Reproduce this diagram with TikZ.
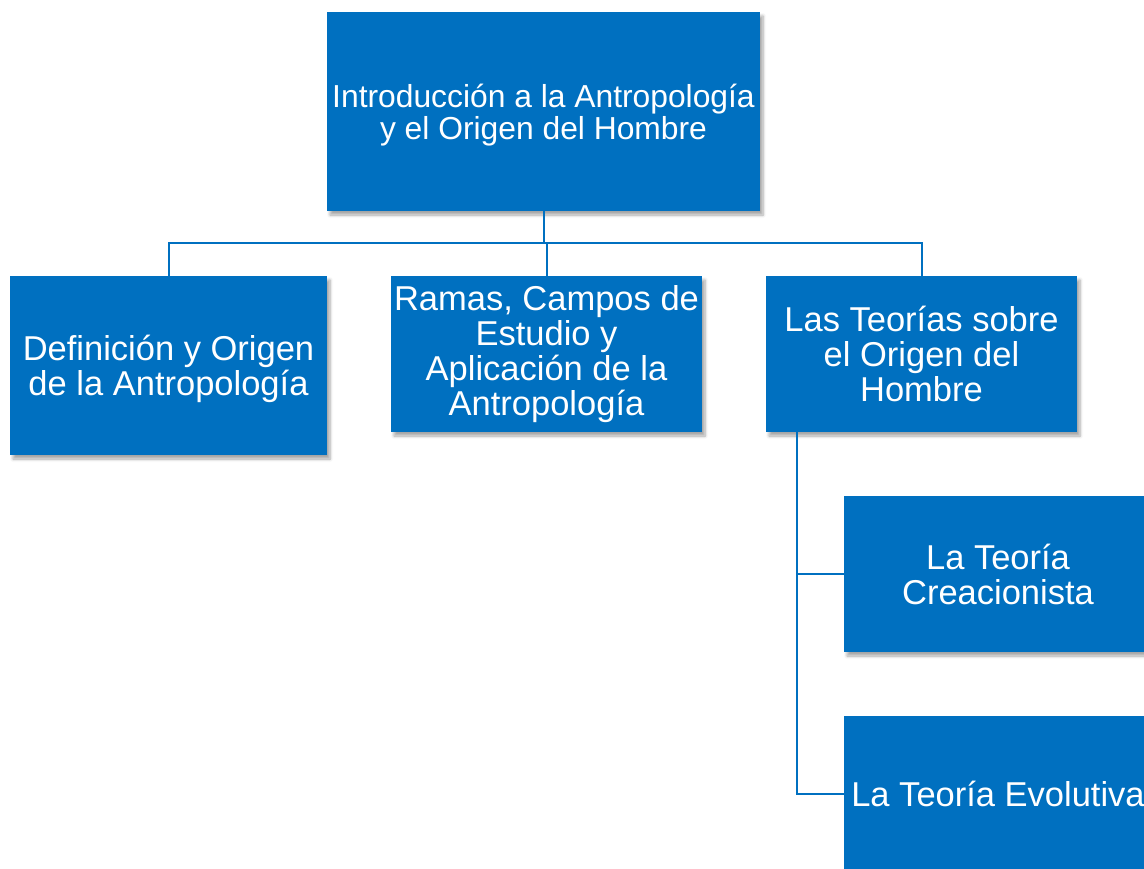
\documentclass[tikz,border=0pt]{standalone}
\usepackage{fontspec}
\setmainfont{Liberation Sans}
\usetikzlibrary{shadows.blur}
\definecolor{boxblue}{HTML}{0070C0}
\tikzset{
  box/.style={rectangle, fill=boxblue, text=white, inner sep=0pt, align=center,
    font=\fontsize{34.5}{35}\selectfont,
    blur shadow={shadow xshift=3pt, shadow yshift=-4pt, shadow blur steps=6, shadow blur radius=3pt, shadow opacity=35}},
  conn/.style={draw=boxblue, line width=2pt}
}
\begin{document}
\begin{tikzpicture}[x=1pt,y=-1pt]
\useasboundingbox (0,0) rectangle (1144,869);
\clip (0,0) rectangle (1144,869);
\node[box, minimum width=433pt, minimum height=199pt, font=\fontsize{31.8}{32}\selectfont, text depth=0pt] (top) at (543.5,111.5) {Introducción a la Antropología\\y el Origen del Hombre};
\node[box, minimum width=317pt, minimum height=179pt, text depth=0pt] (def) at (168.5,365.5) {Definición y Origen\\de la Antropología};
\node[box, minimum width=311pt, minimum height=156pt] (ram) at (546.5,354) {Ramas, Campos de\\Estudio y\\Aplicación de la\\Antropología};
\node[box, minimum width=311pt, minimum height=156pt] (teo) at (921.5,354) {Las Teorías sobre\\el Origen del\\Hombre};
\node[box, minimum width=308pt, minimum height=156pt] (cre) at (998,574) {La Teoría\\Creacionista};
\node[box, minimum width=308pt, minimum height=156pt] (evo) at (998,794) {La Teoría Evolutiva};
\coordinate (bus) at (0,243);
\coordinate (rv) at (797,432);
\draw[conn] (top.south) -- (top.south |- bus);
\draw[conn] (def.north) -- (def.north |- bus) -- (teo.north |- bus) -- (teo.north);
\draw[conn] (ram.north) -- (ram.north |- bus);
\draw[conn] (teo.south -| rv) |- (cre.west);
\draw[conn] (teo.south -| rv) |- (evo.west);
\end{tikzpicture}
\end{document}
